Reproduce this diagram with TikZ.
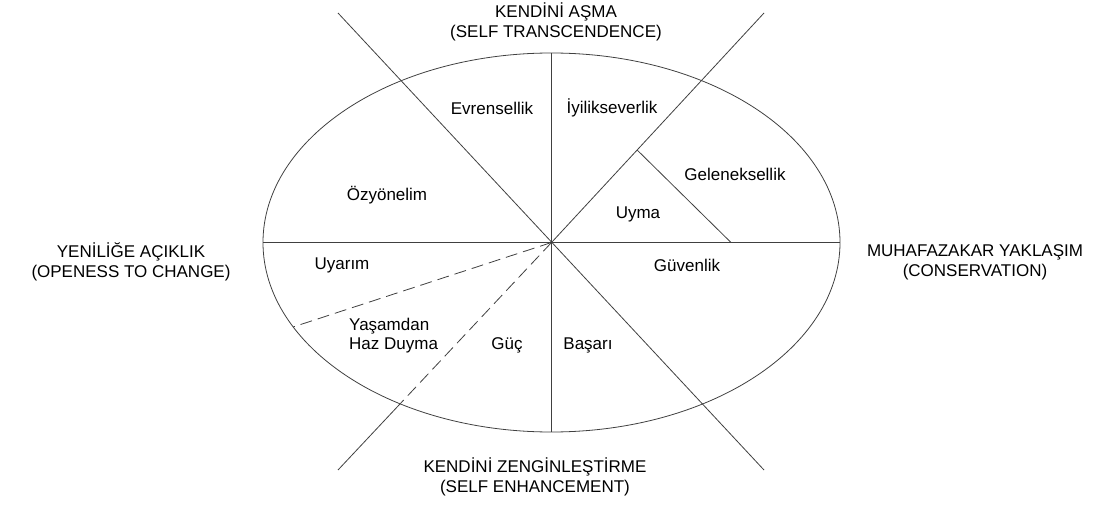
\documentclass[tikz,border=0pt]{standalone}
\usepackage{fontspec}
\setmainfont{Liberation Sans}
\usetikzlibrary{calc}
\tikzset{
  wheel/.style={line width=0.8pt, black!75},
  split/.style={wheel, dash pattern=on 12pt off 6pt},
  value/.style={font=\fontsize{17}{19}\selectfont, align=left, inner sep=0pt},
  pole/.style={font=\fontsize{17}{20}\selectfont, align=center, inner sep=0pt}
}

\begin{document}
\begin{tikzpicture}[x=1pt,y=-1pt]
  \useasboundingbox (0,0) rectangle (1098,508);

  \coordinate (o) at (551.5,242.5);
  \coordinate (nw) at (338,13);
  \coordinate (ne) at (764,13);
  \coordinate (sw) at (338,470);
  \coordinate (se) at (764,470);
  \coordinate (w) at (263,242.5);
  \coordinate (e) at (840,242.5);
  \coordinate (n) at (551.5,53);
  \coordinate (s) at (551.5,432);
  \coordinate (swrim) at ($(o)!0.7084!(sw)$);
  \coordinate (wrim) at (293,327);
  \coordinate (gtop) at ($(o)!0.403!(ne)$);
  \coordinate (gbot) at (731,242.5);

  % wheel
  \draw[wheel] (o) ellipse [x radius=288.5, y radius=189.5];
  \draw[wheel] (w) -- (e);
  \draw[wheel] (n) -- (s);
  \draw[wheel] (nw) -- (se);
  \draw[wheel] (ne) -- (o);
  \draw[wheel] (swrim) -- (sw);
  \draw[wheel] (gtop) -- (gbot);
  \draw[split] (o) -- (swrim);
  \draw[split] (o) -- (wrim);

  % values
  \node[value] (evrensellik) at (492,108) {Evrensellik};
  \node[value] (iyilik) at (612,108) {İyilikseverlik};
  \node[value] (gelenek) at (735,174) {Geleneksellik};
  \node[value] (uyma) at (638,214) {Uyma};
  \node[value] (ozyonelim) at (387,195) {Özyönelim};
  \node[value] (uyarim) at (342,265) {Uyarım};
  \node[value, anchor=west] (haz) at (349,336) {Yaşamdan\\Haz Duyma};
  \node[value] (guc) at (507,345) {Güç};
  \node[value] (guvenlik) at (687,265) {Güvenlik};
  \node[value] (basari) at (588,345) {Başarı};

  % dimensions
  \node[pole] (asma) at (556,22) {KENDİNİ AŞMA\\(SELF TRANSCENDENCE)};
  \node[pole] (acik) at (131,262) {YENİLİĞE AÇIKLIK\\(OPENESS TO CHANGE)};
  \node[pole] (muhafaza) at (975,262) {MUHAFAZAKAR YAKLAŞIM\\(CONSERVATION)};
  \node[pole] (zengin) at (535,477) {KENDİNİ ZENGİNLEŞTİRME\\(SELF ENHANCEMENT)};
\end{tikzpicture}
\end{document}
